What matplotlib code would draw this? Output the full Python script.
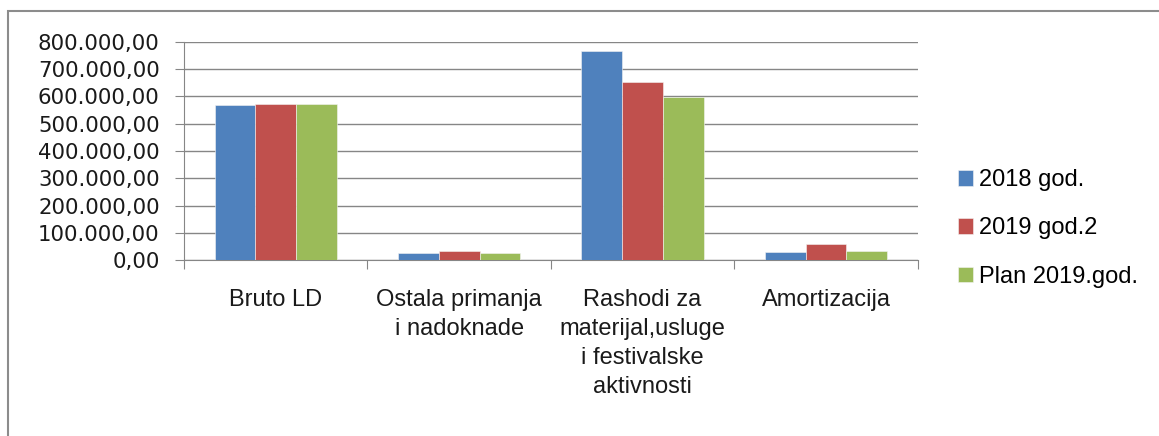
import matplotlib.pyplot as plt
import matplotlib.ticker as mticker
from matplotlib.patches import Rectangle
import numpy as np

# podaci
categories = ["Bruto LD", "Ostala primanja\ni nadoknade",
              "Rashodi za\nmaterijal,usluge\ni festivalske\naktivnosti", "Amortizacija"]
series_names = ["2018 god.", "2019 god.2", "Plan 2019.god."]
v2018 = [567000, 25700, 766000, 30600]
v2019 = [573000, 34300, 653000, 58800]
plan2019 = [572000, 25700, 597000, 34300]
colors = ["#4F81BD", "#C0504D", "#9BBB59"]

W, H = 1159, 436
fig = plt.figure(figsize=(W / 100, H / 100), dpi=100)

# okvir oko grafikona (desna i donja ivica su izvan slike)
fig.patches.append(Rectangle((8 / W, -0.1), 1.2, 1.1 - 11 / H,
                             transform=fig.transFigure, fill=False,
                             edgecolor="#8c8c8c", linewidth=1.5))

ax = fig.add_axes([184 / W, 1 - 260 / H, (917.7 - 184) / W, (260 - 42) / H])

x = np.arange(len(categories))
w = 1 / 4.5
for i, (vals, name, c) in enumerate(zip([v2018, v2019, plan2019], series_names, colors)):
    ax.bar(x + (i - 1) * w, vals, width=w, color=c, edgecolor="#f4f4f4",
           linewidth=0.4, label=name, zorder=3)

ax.set_xlim(-0.5, len(categories) - 0.5)
ax.set_ylim(0, 800000)
ax.yaxis.set_major_locator(mticker.MultipleLocator(100000))

def fmt(v, pos):
    s = f"{v:,.2f}"
    return s.replace(",", " ").replace(".", ",").replace(" ", ".")

ax.yaxis.set_major_formatter(mticker.FuncFormatter(fmt))
ax.grid(axis="y", color="#868686", linewidth=1.0, zorder=0)

for s in ["top", "right"]:
    ax.spines[s].set_visible(False)
ax.spines["left"].set_color("#868686")
ax.spines["bottom"].set_color("#868686")

# kategorije kao tekst, tickovi na granicama
ax.set_xticks(np.arange(-0.5, len(categories)))
ax.set_xticklabels([])
ax.tick_params(axis="x", length=6.5, color="#868686", direction="out")
ax.tick_params(axis="y", length=6.5, color="#868686", direction="out", pad=11,
               labelsize=15.3, labelcolor="#1a1a1a")
for xi, lab in zip(x, categories):
    ax.text(xi, -0.135, lab, transform=ax.get_xaxis_transform(), ha="center", va="top",
            fontsize=17, family="Liberation Sans", linespacing=1.4, color="#1a1a1a")

fig.legend(loc="upper left", bbox_to_anchor=(958 / W, 1 - 169 / H), frameon=False,
           prop={"family": "Liberation Sans", "size": 17},
           borderpad=0, borderaxespad=0,
           handlelength=0.64, handleheight=0.64, handletextpad=0.24, labelspacing=1.12)

fig.savefig("out.png", dpi=100)
